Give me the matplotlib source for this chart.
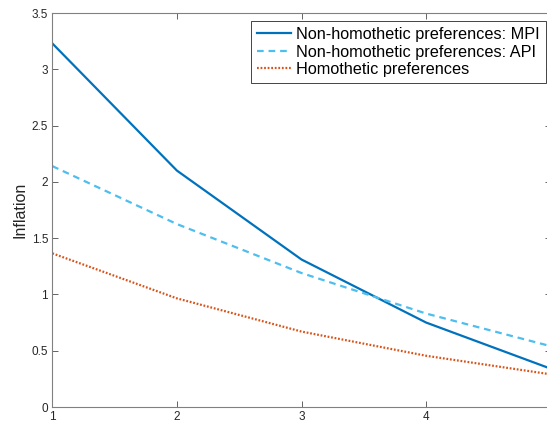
import matplotlib
matplotlib.use("Agg")
import matplotlib.pyplot as plt

plt.rcParams['font.family'] = ['Liberation Sans', 'DejaVu Sans']

x = [1, 2, 3, 4, 5]
mpi = [3.23, 2.10, 1.31, 0.75, 0.34]
api = [2.14, 1.625, 1.19, 0.83, 0.54]
hom = [1.365, 0.965, 0.67, 0.455, 0.29]
labels = ["Non-homothetic preferences: MPI",
          "Non-homothetic preferences: API",
          "Homothetic preferences"]
yticks = [0, 0.5, 1, 1.5, 2, 2.5, 3, 3.5]
ytick_labels = ["0", "0.5", "1", "1.5", "2", "2.5", "3", "3.5"]
xticks = [1, 2, 3, 4]
xtick_labels = ["1", "2", "3", "4"]

W, H = 547, 423
fig = plt.figure(figsize=(W / 100, H / 100), dpi=100)
ax = fig.add_axes([52.3 / W, 1 - 407 / H, (550.8 - 52.3) / W, (407 - 13) / H])

ax.plot(x, mpi, color='#0072BD', lw=1.6, label=labels[0])
ax.plot(x, api, color='#4DBEEE', lw=1.6, ls=(0, (3, 2.2)), label=labels[1])
ax.plot(x, hom, color='#D95319', lw=1.6, ls=(0, (0.8, 0.8)), label=labels[2])

ax.set_xlim(1, 5)
ax.set_ylim(0, 3.5)
ax.set_xticks(xticks)
ax.set_xticklabels(xtick_labels)
ax.set_yticks(yticks)
ax.set_yticklabels(ytick_labels)
ax.tick_params(direction='in', length=4, width=0.5, colors='#262626',
               labelsize=8.5, top=True, right=True, pad=3)
for s in ax.spines.values():
    s.set_color('#808080')
    s.set_linewidth(0.8)
ax.set_ylabel("Inflation", fontsize=11.5, color='#262626', labelpad=3)

leg = ax.legend(loc='upper right', bbox_to_anchor=(546 / W, 1 - 21 / H),
                bbox_transform=fig.transFigure, fontsize=11.7, frameon=True,
                fancybox=False, framealpha=1, edgecolor='#262626',
                handlelength=2.1, handletextpad=0.3, borderpad=0.38,
                labelspacing=0.15, borderaxespad=0)
leg.get_frame().set_linewidth(0.6)

fig.savefig("out.png", dpi=100)
